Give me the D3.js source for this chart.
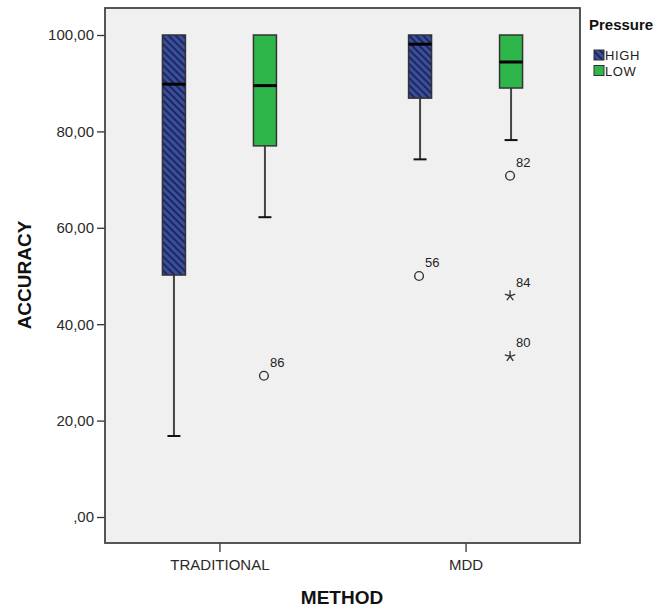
<!DOCTYPE html>
<html>
<head>
<meta charset="utf-8">
<script src="https://cdn.jsdelivr.net/npm/d3@7"></script>
<style>
  body { margin: 0; background: #fff; }
  text { font-family: "Liberation Sans", Arial, sans-serif; }
</style>
</head>
<body>
<svg id="chart" width="671" height="610"></svg>
<script>
// categories
let methods = ["TRADITIONAL", "MDD"],
    pressures = ["HIGH", "LOW"];

// one entry per box (method x pressure)
let groupMethod   = ["TRADITIONAL", "TRADITIONAL", "MDD", "MDD"],
    groupPressure = ["HIGH", "LOW", "HIGH", "LOW"],
    whiskerLow    = [16.8, 62.2, 74.2, 78.2],
    q1            = [50.2, 77.0, 86.9, 89.0],
    median        = [89.8, 89.5, 98.1, 94.4],
    q3            = [100, 100, 100, 100],
    whiskerHigh   = [100, 100, 100, 100];

// outliers (o) and extremes (*)
let outlierGroup = [1, 2, 3, 3, 3],
    outlierValue = [29.3, 50.0, 70.8, 45.9, 33.3],
    outlierCase  = ["86", "56", "82", "84", "80"],
    outlierKind  = ["o", "o", "o", "*", "*"];

let yTicks = [0, 20, 40, 60, 80, 100];

// frame of the plot
let frame = {left: 105, top: 8, right: 580, bottom: 543};

let svg = d3.select("#chart");

let x = d3.scalePoint()
  .domain(methods)
  .range([frame.left, frame.right])
  .padding(0.465);

let xSub = d3.scaleBand()
  .domain(pressures)
  .range([-91, 91]);

let y = d3.scaleLinear()
  .domain([0, 100])
  .range([517, 35]);

let color = d3.scaleOrdinal()
  .domain(pressures)
  .range(["#3a4e9f", "#2fb64a"]);

let boxW = 23;

// hatch pattern for HIGH
let defs = svg.append("defs");
let pat = defs.append("pattern")
  .attr("id", "hatch")
  .attr("patternUnits", "userSpaceOnUse")
  .attr("width", 5).attr("height", 5)
  .attr("patternTransform", "rotate(45)");
pat.append("rect").attr("width", 5).attr("height", 5).attr("fill", "#3a4e9f");
pat.append("rect").attr("width", 5).attr("height", 1.8).attr("fill", "#1b2350");

function fillFor(p) { return p === "HIGH" ? "url(#hatch)" : color(p); }

// plot background
svg.append("rect")
  .attr("x", frame.left).attr("y", frame.top)
  .attr("width", frame.right - frame.left)
  .attr("height", frame.bottom - frame.top)
  .attr("fill", "#f0f0f0");

// Y axis
let yAxis = svg.append("g")
  .attr("transform", "translate(" + frame.left + ",0)")
  .call(d3.axisLeft(y).tickValues(yTicks).tickSize(8).tickPadding(3)
    .tickFormat(d => d === 0 ? ",00" : d3.format(".2f")(d).replace(".", ",")));
yAxis.select(".domain").remove();
yAxis.selectAll("line").attr("stroke", "#333").attr("stroke-width", 1.3);
yAxis.selectAll("text").attr("font-size", 15).attr("fill", "#2a2a2a")
  .attr("font-family", "Liberation Sans, Arial, sans-serif");

// X axis
let xAxis = svg.append("g")
  .attr("transform", "translate(0," + frame.bottom + ")")
  .call(d3.axisBottom(x).tickSize(9).tickPadding(7));
xAxis.select(".domain").remove();
xAxis.selectAll("line").attr("stroke", "#333").attr("stroke-width", 1.3);
xAxis.selectAll("text").attr("font-size", 15).attr("fill", "#2a2a2a")
  .attr("font-family", "Liberation Sans, Arial, sans-serif");

let groups = d3.range(groupMethod.length).map(i => ({
  cx: x(groupMethod[i]) + xSub(groupPressure[i]) + xSub.bandwidth() / 2,
  p: groupPressure[i],
  lo: whiskerLow[i], q1: q1[i], med: median[i], q3: q3[i], hi: whiskerHigh[i]
}));

let g = svg.append("g");

// whiskers
g.selectAll(".whisk").data(groups).enter().append("line")
  .attr("x1", d => d.cx).attr("x2", d => d.cx)
  .attr("y1", d => y(d.lo)).attr("y2", d => y(d.q1))
  .attr("stroke", "#444").attr("stroke-width", 2);
g.selectAll(".capLo").data(groups).enter().append("line")
  .attr("x1", d => d.cx - 6.5).attr("x2", d => d.cx + 6.5)
  .attr("y1", d => y(d.lo)).attr("y2", d => y(d.lo))
  .attr("stroke", "#111").attr("stroke-width", 2);

// boxes
g.selectAll(".box").data(groups).enter().append("rect")
  .attr("x", d => d.cx - boxW / 2)
  .attr("y", d => y(d.q3))
  .attr("width", boxW)
  .attr("height", d => y(d.q1) - y(d.q3))
  .attr("fill", d => fillFor(d.p))
  .attr("stroke", "#333").attr("stroke-width", 1.5);

// medians
g.selectAll(".med").data(groups).enter().append("line")
  .attr("x1", d => d.cx - boxW / 2).attr("x2", d => d.cx + boxW / 2)
  .attr("y1", d => y(d.med)).attr("y2", d => y(d.med))
  .attr("stroke", "#000").attr("stroke-width", 3);

// five-arm asterisk symbol for extremes
let asterisk5 = {
  draw(ctx, size) {
    let r = Math.sqrt(size) / 2;
    for (let k = 0; k < 5; k++) {
      let a = -Math.PI / 2 + k * 2 * Math.PI / 5;
      ctx.moveTo(0, 0);
      ctx.lineTo(r * Math.cos(a), r * Math.sin(a));
    }
  }
};

let outs = outlierValue.map((v, i) => ({
  cx: groups[outlierGroup[i]].cx - 1,
  v: v, label: outlierCase[i], kind: outlierKind[i]
}));

g.selectAll(".out").data(outs).enter().append("path")
  .attr("transform", d => "translate(" + d.cx + "," + y(d.v) + ")")
  .attr("d", d => d.kind === "o"
    ? d3.symbol(d3.symbolCircle, 60)()
    : d3.symbol(asterisk5, 120)())
  .attr("fill", "none")
  .attr("stroke", "#333")
  .attr("stroke-width", d => d.kind === "o" ? 1.4 : 1.3);

g.selectAll(".outLab").data(outs).enter().append("text")
  .attr("x", d => d.cx + 6)
  .attr("y", d => y(d.v) - 9)
  .attr("font-size", 13)
  .attr("fill", "#222")
  .text(d => d.label);

// frame
svg.append("rect")
  .attr("x", frame.left).attr("y", frame.top)
  .attr("width", frame.right - frame.left)
  .attr("height", frame.bottom - frame.top)
  .attr("fill", "none")
  .attr("stroke", "#444").attr("stroke-width", 1.8);

// axis titles
svg.append("text")
  .attr("transform", "translate(31,275) rotate(-90)")
  .attr("text-anchor", "middle")
  .attr("font-size", 19).attr("font-weight", "bold").attr("fill", "#111")
  .text("ACCURACY");

svg.append("text")
  .attr("x", 342).attr("y", 604)
  .attr("text-anchor", "middle")
  .attr("font-size", 19).attr("font-weight", "bold").attr("fill", "#111")
  .text("METHOD");

// legend
let leg = svg.append("g").attr("transform", "translate(589,0)");
leg.append("text")
  .attr("x", 0).attr("y", 30)
  .attr("font-size", 15).attr("font-weight", "bold").attr("fill", "#111")
  .text("Pressure");
let li = leg.selectAll(".li").data(pressures).enter().append("g")
  .attr("transform", (d, i) => "translate(5," + (50 + i * 15.5) + ")");
li.append("rect")
  .attr("width", 10).attr("height", 10)
  .attr("fill", d => fillFor(d))
  .attr("stroke", "#333").attr("stroke-width", 1);
li.append("text")
  .attr("x", 11).attr("y", 10)
  .attr("font-size", 13).attr("letter-spacing", 0.6).attr("fill", "#222")
  .text(d => d);
</script>
</body>
</html>
